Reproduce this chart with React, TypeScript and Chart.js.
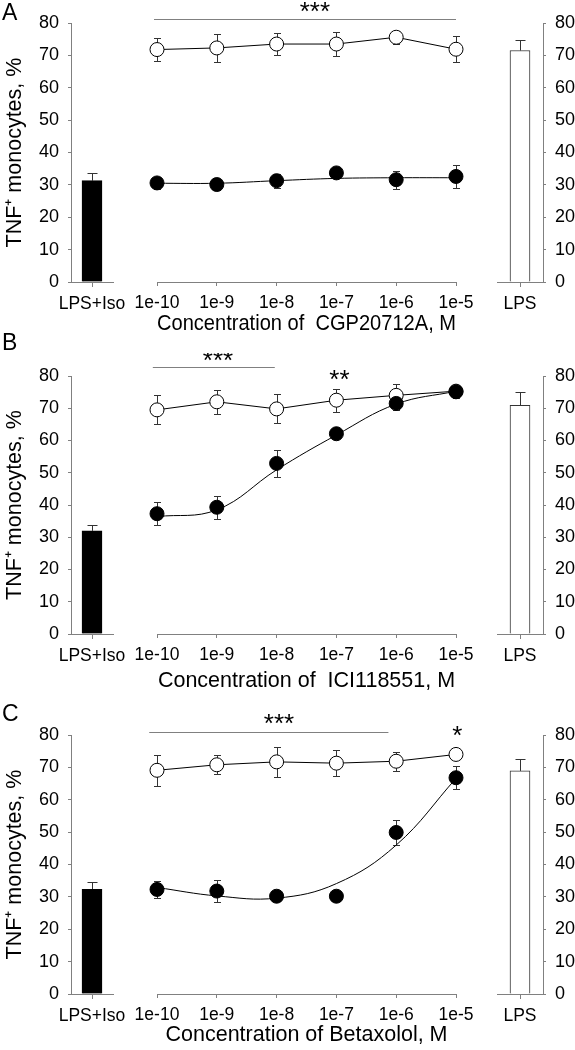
import React, { useEffect, useRef } from 'react';
import { Chart, registerables } from 'chart.js';

Chart.register(...registerables);

const FONT = "'Liberation Sans', Arial, Helvetica, sans-serif";
Chart.defaults.font.family = FONT;
Chart.defaults.color = '#000';

// ---------- DATA ----------
const panelLetters = ['A', 'B', 'C'];
const xTitles = [
  'Concentration of  CGP20712A, M',
  'Concentration of  ICI118551, M',
  'Concentration of Betaxolol, M',
];
const yTitle = 'TNF\u207A monocytes, %';
const concentrations = [-10, -9, -8, -7, -6, -5]; // log10 of molar concentration
const concLabels = ['1e-10', '1e-9', '1e-8', '1e-7', '1e-6', '1e-5'];
const leftBarLabel = 'LPS+Iso';
const rightBarLabel = 'LPS';

// LPS+Iso control bars (A, B, C)
const lpsIsoValues = [31.3, 32.0, 32.3];
const lpsIsoErrors = [2.5, 1.8, 2.3];
// LPS control bars (A, B, C)
const lpsValues = [71.5, 70.9, 68.9];
const lpsErrors = [3.4, 4.0, 3.6];

// Panel A – CGP20712A
const cgpOpen = [71.8, 72.3, 73.5, 73.5, 75.6, 71.9];
const cgpOpenErr = [3.6, 4.3, 3.5, 3.7, 2.0, 4.1];
const cgpFilled = [30.6, 30.1, 31.3, 33.7, 31.6, 32.6];
const cgpFilledErr = [1.8, 1.8, 2.2, 1.5, 2.8, 3.5];
const cgpFit = [30.5, 30.5, 31.3, 32.0, 32.2, 32.2];

// Panel B – ICI118551
const iciOpen = [69.5, 72.0, 69.8, 72.5, 74.0, 75.3];
const iciOpenErr = [4.5, 3.8, 4.5, 3.6, 3.5, 1.5];
const iciFilled = [37.3, 39.3, 52.9, 62.1, 71.5, 75.1];
const iciFilledErr = [3.5, 3.6, 4.3, 1.0, 2.0, 2.0];
const iciFit = [36.4, 38.5, 50.9, 61.7, 71.3, 75.3];

// Panel C – Betaxolol
const betOpen = [69.1, 70.8, 71.7, 71.3, 71.9, 74.0];
const betOpenErr = [4.7, 3.0, 4.6, 4.0, 3.0, 1.0];
const betFilled = [32.3, 31.8, 30.2, 30.2, 49.9, 66.8];
const betFilledErr = [2.5, 3.3, 1.0, 1.0, 3.8, 3.6];
const betFit = [32.9, 30.3, 29.6, 34.1, 46.0, 66.6];

// significance annotations (data units)
const sigA = [{ from: -10.05, to: -5, y: 81.1, text: '***', tx: -7.36, ty: 85.5 }];
const sigB = [
  { from: -10.07, to: -8.03, y: 82.9, text: '***', tx: -8.98, ty: 87.0 },
  { text: '**', tx: -6.95, ty: 81.0 },
];
const sigC = [
  { from: -10.13, to: -6.13, y: 81.0, text: '***', tx: -7.96, ty: 85.5 },
  { text: '*', tx: -4.98, ty: 82.0 },
];

const openSeries = [cgpOpen, iciOpen, betOpen];
const openErrors = [cgpOpenErr, iciOpenErr, betOpenErr];
const filledSeries = [cgpFilled, iciFilled, betFilled];
const filledErrors = [cgpFilledErr, iciFilledErr, betFilledErr];
const fitSeries = [cgpFit, iciFit, betFit];
const sigSeries = [sigA, sigB, sigC];

// ---------- LAYOUT ----------
const W = 575;
const GRAY = '#808080';
const PAD_TOP = 23;
const X_AXIS_H = 70;
const TITLE_SIZE = 21.5;
const layouts = [
  { top80: 23, zero: 282, titleOffset: 41.7, letterTop: 1 },
  { top80: 376, zero: 634, titleOffset: 47, letterTop: 330.5 },
  { top80: 735, zero: 994, titleOffset: 41, letterTop: 702 },
];
const LEFT_AXIS_X = 71;
const LEFT_AREA_RIGHT = 113;
const MID_LEFT = 157;
const MID_RIGHT = 456;
const RIGHT_AREA_LEFT = 497;
const RIGHT_AXIS_X = 543;

// ---------- PLUGINS ----------
const errorBarPlugin = {
  id: 'errorBars',
  beforeDatasetsDraw(chart: any) {
    const ctx = chart.ctx;
    const yScale = chart.scales.y;
    chart.data.datasets.forEach((ds: any, i: number) => {
      const errs = ds.errorBars;
      if (!errs) return;
      const meta = chart.getDatasetMeta(i);
      ctx.save();
      ctx.strokeStyle = '#333';
      ctx.lineWidth = 1;
      meta.data.forEach((el: any, j: number) => {
        const err = errs[j];
        if (!err) return;
        const raw = ds.data[j];
        const v = typeof raw === 'number' ? raw : raw.y;
        const x = Math.round(el.x) + 0.5;
        const yTop = Math.round(yScale.getPixelForValue(v + err)) + 0.5;
        const yBot = ds.errorUpOnly
          ? yScale.getPixelForValue(v)
          : Math.round(yScale.getPixelForValue(v - err)) + 0.5;
        const cap = ds.errorCap || 3.5;
        ctx.beginPath();
        ctx.moveTo(x, yTop);
        ctx.lineTo(x, yBot);
        ctx.moveTo(x - cap, yTop);
        ctx.lineTo(x + cap, yTop);
        if (!ds.errorUpOnly) {
          ctx.moveTo(x - cap, yBot);
          ctx.lineTo(x + cap, yBot);
        }
        ctx.stroke();
      });
      ctx.restore();
    });
  },
};

const sigPlugin = {
  id: 'sig',
  afterDatasetsDraw(chart: any, _args: any, opts: any) {
    const items = (opts && opts.items) || [];
    const { ctx } = chart;
    const xs = chart.scales.x;
    const ys = chart.scales.y;
    ctx.save();
    items.forEach((it: any) => {
      if (it.from != null) {
        const y = Math.round(ys.getPixelForValue(it.y)) + 0.5;
        ctx.strokeStyle = GRAY;
        ctx.lineWidth = 1;
        ctx.beginPath();
        ctx.moveTo(xs.getPixelForValue(it.from), y);
        ctx.lineTo(xs.getPixelForValue(it.to), y);
        ctx.stroke();
      }
      const fs = 26;
      ctx.font = `${fs}px ${FONT}`;
      ctx.fillStyle = '#000';
      ctx.textAlign = 'center';
      ctx.textBaseline = 'alphabetic';
      ctx.fillText(it.text, xs.getPixelForValue(it.tx), ys.getPixelForValue(it.ty) + 0.58 * fs);
    });
    ctx.restore();
  },
};

// ---------- CONFIG BUILDERS ----------
const xAxisBase = (tickPad: number) => ({
  grid: { display: true, drawOnChartArea: false, offset: false, tickLength: 5, color: GRAY, lineWidth: 1 },
  border: { display: true, color: GRAY, width: 1 },
  ticks: { font: { size: 17.5 }, color: '#000', padding: tickPad, maxRotation: 0, minRotation: 0, autoSkip: false },
  afterFit: (s: any) => {
    s.height = X_AXIS_H;
  },
});

const yAxisBase = (position: 'left' | 'right', width: number) => ({
  position,
  min: 0,
  max: 80,
  ticks: { stepSize: 10, font: { size: 18 }, color: '#000', padding: 9 },
  grid: { display: true, drawOnChartArea: false, tickLength: 3, color: GRAY },
  border: { display: true, color: GRAY, width: 1 },
  afterFit: (s: any) => {
    s.width = width;
  },
});

function leftConfig(p: number) {
  const y: any = yAxisBase('left', LEFT_AXIS_X);
  y.title = {
    display: true,
    text: yTitle,
    font: { size: TITLE_SIZE },
    color: '#000',
    padding: { top: 2.1, bottom: 0 },
  };
  return {
    type: 'bar',
    data: {
      labels: [leftBarLabel],
      datasets: [
        {
          data: [lpsIsoValues[p]],
          backgroundColor: '#000',
          borderColor: '#000',
          borderWidth: 1,
          barThickness: 20,
          errorBars: [lpsIsoErrors[p]],
          errorUpOnly: true,
          errorCap: 5,
        },
      ],
    },
    options: {
      animation: false,
      responsive: false,
      layout: { padding: { top: PAD_TOP, bottom: 0, left: 0, right: W - LEFT_AREA_RIGHT } },
      plugins: { legend: { display: false }, tooltip: { enabled: false } },
      scales: { x: xAxisBase(7), y },
    },
    plugins: [errorBarPlugin],
  };
}

function rightConfig(p: number) {
  return {
    type: 'bar',
    data: {
      labels: [rightBarLabel],
      datasets: [
        {
          data: [lpsValues[p]],
          backgroundColor: '#fff',
          borderColor: '#333',
          borderWidth: 1,
          barThickness: 20,
          errorBars: [lpsErrors[p]],
          errorUpOnly: true,
          errorCap: 5,
        },
      ],
    },
    options: {
      animation: false,
      responsive: false,
      layout: { padding: { top: PAD_TOP, bottom: 0, left: RIGHT_AREA_LEFT, right: 0 } },
      plugins: { legend: { display: false }, tooltip: { enabled: false } },
      scales: { x: xAxisBase(7), y: yAxisBase('right', W - RIGHT_AXIS_X) },
    },
    plugins: [errorBarPlugin],
  };
}

function midConfig(p: number) {
  const L = layouts[p];
  const pts = (arr: number[]) => concentrations.map((c, i) => ({ x: c, y: arr[i] }));
  const x: any = xAxisBase(7);
  x.type = 'linear';
  x.min = -10;
  x.max = -5;
  x.grid.tickLength = 4;
  x.ticks.stepSize = 1;
  x.ticks.callback = (v: number) => {
    const i = concentrations.indexOf(Math.round(v));
    return i >= 0 ? concLabels[i] : '';
  };
  x.title = {
    display: true,
    text: xTitles[p],
    font: { size: TITLE_SIZE },
    color: '#000',
    padding: { top: 0, bottom: X_AXIS_H - (TITLE_SIZE * 1.2) / 2 - L.titleOffset },
  };
  return {
    type: 'line',
    data: {
      datasets: [
        {
          label: 'with isoproterenol',
          data: pts(filledSeries[p]),
          showLine: false,
          pointRadius: 7,
          pointBackgroundColor: '#000',
          pointBorderColor: '#000',
          pointBorderWidth: 1,
          errorBars: filledErrors[p],
          clip: false,
        },
        {
          label: 'fit',
          data: pts(fitSeries[p]),
          pointRadius: 0,
          borderColor: '#000',
          borderWidth: 1,
          tension: 0.4,
          fill: false,
          clip: false,
        },
        {
          label: 'without isoproterenol',
          data: pts(openSeries[p]),
          pointRadius: 7,
          pointBackgroundColor: '#fff',
          pointBorderColor: '#000',
          pointBorderWidth: 1,
          borderColor: '#000',
          borderWidth: 1,
          tension: 0,
          fill: false,
          errorBars: openErrors[p],
          clip: false,
        },
      ],
    },
    options: {
      animation: false,
      responsive: false,
      layout: { padding: { top: PAD_TOP, bottom: 0, left: MID_LEFT, right: W - MID_RIGHT } },
      plugins: {
        legend: { display: false },
        tooltip: { enabled: false },
        sig: { items: sigSeries[p] },
      },
      scales: {
        x,
        y: { display: false, min: 0, max: 80 },
      },
    },
    plugins: [errorBarPlugin, sigPlugin],
  };
}

function ChartCanvas({ config, top, height }: { config: any; top: number; height: number }) {
  const ref = useRef<HTMLCanvasElement | null>(null);
  useEffect(() => {
    if (!ref.current) return;
    const chart = new Chart(ref.current, config);
    return () => chart.destroy();
  }, []);
  return (
    <canvas
      ref={ref}
      width={W}
      height={height}
      style={{ position: 'absolute', left: 0, top, width: W, height }}
    />
  );
}

export default function App() {
  return (
    <div
      style={{
        position: 'absolute',
        left: 0,
        top: 0,
        width: W,
        height: 1050,
        overflow: 'hidden',
        background: '#fff',
      }}
    >
      {layouts.map((L, p) => {
        const top = L.top80 - PAD_TOP;
        const height = PAD_TOP + (L.zero - L.top80) + X_AXIS_H;
        return (
          <React.Fragment key={p}>
            <ChartCanvas config={leftConfig(p)} top={top} height={height} />
            <ChartCanvas config={midConfig(p)} top={top} height={height} />
            <ChartCanvas config={rightConfig(p)} top={top} height={height} />
            <div
              style={{
                position: 'absolute',
                left: 2,
                top: L.letterTop,
                fontFamily: FONT,
                fontSize: 23,
                lineHeight: 1,
                color: '#000',
              }}
            >
              {panelLetters[p]}
            </div>
          </React.Fragment>
        );
      })}
    </div>
  );
}
